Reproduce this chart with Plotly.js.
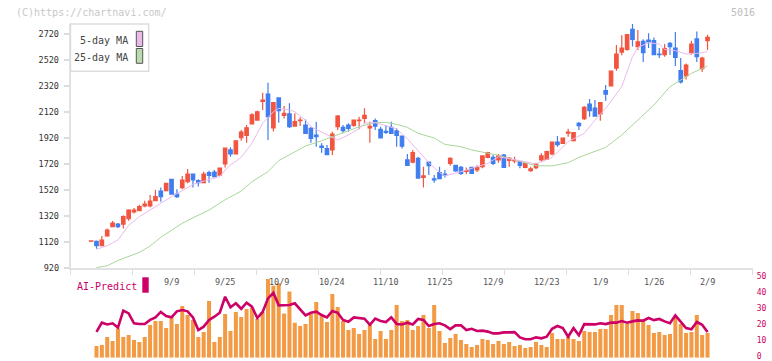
<!DOCTYPE html>
<html><head><meta charset="utf-8">
<script src="https://cdn.plot.ly/plotly-3.0.1.min.js"></script>
<style>html,body{margin:0;padding:0;background:#fff;}#chart{width:772px;height:361px;}</style>
</head><body><div id="chart"></div>
<script>
// Trading-day candles, first entry is day -1 (before the volume series starts)
const openP  = [1126,1125,1092,1166,1238,1258,1258,1299,1351,1361,1397,1397,1438,1512,1515,1602,1489,1538,1584,1643,1592,1576,1653,1658,1635,1720,1828,1797,1922,1940,2028,2058,2202,2258,1997,2228,2094,2105,2012,2053,2020,1994,1943,1858,1838,1828,2007,2002,2020,2017,2053,2071,1997,2053,1987,1971,2002,1976,1935,1751,1735,1764,1617,1735,1605,1653,1643,1725,1710,1694,1664,1694,1674,1699,1771,1771,1751,1789,1748,1743,1738,1694,1669,1692,1751,1756,1797,1889,1879,1958,1899,2033,2069,2181,2151,2105,2284,2320,2458,2581,2602,2756,2623,2664,2674,2669,2566,2561,2648,2612,2438,2397,2576,2682,2453,2669];
const highP  = [1128,1132,1166,1223,1282,1266,1325,1371,1382,1407,1438,1481,1520,1540,1571,1602,1525,1628,1682,1643,1602,1661,1669,1674,1694,1843,1848,1899,1982,2020,2110,2130,2269,2346,2197,2233,2166,2187,2110,2079,2063,2007,2046,1879,1866,1969,2097,2020,2033,2063,2084,2148,2046,2071,2007,2020,2046,1994,1935,1797,1828,1776,1699,1735,1635,1699,1674,1771,1710,1705,1694,1694,1710,1782,1815,1789,1797,1797,1771,1776,1738,1730,1699,1730,1802,1822,1889,1935,1920,1992,1966,2043,2166,2220,2212,2197,2328,2435,2635,2710,2720,2797,2751,2679,2725,2694,2612,2643,2658,2735,2535,2494,2669,2740,2546,2715];
const lowP   = [1124,1069,1092,1161,1238,1228,1223,1284,1340,1356,1387,1387,1438,1430,1515,1489,1458,1525,1571,1540,1546,1571,1576,1617,1630,1694,1776,1797,1899,1884,2028,2058,2135,1905,1971,2038,2071,1997,2007,2012,1956,1884,1853,1807,1787,1789,1981,1956,1969,2007,1987,2033,1884,1981,1920,1951,1951,1853,1840,1705,1725,1607,1540,1635,1576,1607,1617,1707,1661,1635,1643,1648,1658,1687,1764,1712,1730,1694,1699,1725,1687,1687,1661,1679,1740,1751,1787,1853,1874,1930,1894,1981,2058,2084,2084,2053,2207,2320,2438,2556,2592,2623,2597,2504,2612,2561,2535,2546,2561,2474,2340,2371,2561,2504,2428,2597];
const closeP = [1128,1092,1135,1212,1266,1238,1315,1366,1366,1392,1412,1435,1469,1469,1571,1489,1469,1597,1643,1597,1576,1643,1633,1623,1689,1843,1797,1899,1966,1999,2099,2122,2212,2084,2192,2130,2110,2007,2046,2058,1956,1917,1930,1848,1792,1951,2089,1976,1994,2058,2058,2094,2010,2012,1920,1963,1956,1940,1858,1710,1807,1612,1628,1707,1597,1607,1635,1764,1666,1648,1669,1648,1694,1782,1807,1725,1782,1694,1766,1748,1710,1725,1682,1720,1782,1815,1889,1869,1920,1966,1961,2015,2156,2130,2089,2192,2258,2435,2566,2612,2715,2679,2659,2576,2659,2561,2561,2607,2623,2540,2351,2481,2643,2546,2535,2694];

// Volume-style bars and AI-Predict line (right axis 0-50), days 0..114
const volume = [7.3,7.9,12.9,10.4,18.3,12.9,14.2,11.1,9.8,12.9,20.4,22.9,22.9,18.5,26.0,21.0,32.3,26.7,23.5,12.9,16.0,35.4,9.8,12.9,27.3,16.7,28.5,25.4,30.4,31.0,24.2,28.5,49.2,45.0,46.5,27.7,41.3,21.9,19.8,21.0,27.3,34.8,26.7,22.3,39.8,31.7,22.9,17.3,18.5,14.8,17.3,20.4,11.7,16.7,11.7,17.3,32.9,22.9,23.5,17.3,19.8,26.7,18.5,32.9,16.7,9.2,12.3,14.8,11.0,8.6,6.7,7.9,11.7,11.0,8.6,10.4,8.6,9.8,7.3,7.9,6.0,6.7,9.8,7.9,6.7,15.4,11.7,11.7,12.9,11.7,10.4,16.7,16.0,16.0,17.9,17.9,26.7,32.9,32.9,21.0,29.2,27.9,24.2,20.4,15.4,16.0,14.2,14.8,24.8,21.0,15.4,16.0,26.7,14.2,15.4];
const aiPredict = [16.1,21.9,20.8,21.5,18.8,29.4,27.7,21.5,21.1,21.1,23.6,25.2,28.6,26.1,25.2,29.0,29.8,29.0,25.2,17.3,19.4,23.6,25.6,28.1,38.1,31.5,34.0,30.6,34.4,31.9,24.8,28.6,37.1,40.6,32.7,32.9,32.9,34.0,30.2,26.5,28.1,28.8,26.7,25.2,29.2,28.1,23.6,22.5,25.2,24.6,24.4,20.6,24.4,22.9,22.3,25.2,21.1,20.8,21.9,20.8,24.2,23.6,19.8,21.1,21.5,20.2,17.9,20.2,20.2,17.3,18.1,16.7,16.9,16.3,15.2,15.2,15.8,15.8,16.0,12.7,11.5,11.5,12.7,12.1,13.1,18.1,19.8,18.5,13.1,18.5,14.0,21.0,20.8,20.8,21.5,21.0,21.9,21.9,22.9,21.9,22.7,23.3,23.1,24.8,23.5,24.2,22.7,21.5,26.5,22.3,18.5,17.7,22.3,20.6,16.0];

// Moving averages, read at these day positions
const ma5Day = [0,2,4,5,6,8,10,12,14,16,18,19,21,23,24,25,27,29,31,33,34,36,37,39,40,42,44,45,47,49,50,52,54,56,58,60,62,64,65,68,70,73,75,78,80,82,85,88,91,93,95,98,100,101,103,105,106,108,110,112,114];
const ma5    = [1064,1092,1135,1187,1248,1315,1366,1422,1469,1515,1563,1576,1597,1623,1674,1712,1771,1879,2033,2122,2148,2135,2122,2058,2007,1966,1925,1905,1943,1994,2033,2038,2015,1990,1915,1820,1730,1655,1628,1661,1687,1725,1776,1756,1738,1720,1771,1892,1956,2058,2148,2315,2546,2617,2653,2643,2602,2592,2566,2571,2584];
const ma25Day = [0,2,4,6,8,10,12,14,16,18,21,24,27,29,32,34,37,39,42,44,47,49,52,54,56,58,60,63,65,68,70,73,75,78,80,82,85,88,90,91,95,98,101,104,107,109,111,114];
const ma25    = [923,938,978,1010,1040,1089,1156,1210,1264,1306,1366,1445,1512,1584,1661,1746,1815,1858,1899,1930,1974,2007,2038,2040,2025,2002,1956,1920,1871,1853,1828,1802,1787,1751,1728,1707,1705,1730,1771,1787,1848,1943,2058,2174,2315,2365,2417,2474];

// Date labels (trading-day position)
const dateDay    = [14,24,34,44,54,64,74,84,94,104,114];
const dateLabels = ['9/9','9/25','10/9','10/24','11/10','11/25','12/9','12/23','1/9','1/26','2/9'];
const priceTicks = [920,1120,1320,1520,1720,1920,2120,2320,2520,2720];
const aiTicks    = [0,10,20,30,40,50];

const candleDay = closeP.map((_, k) => k - 1);
const dayIdx = volume.map((_, k) => k);

const W = 772, H = 361;
const px = v => v / W, py = v => 1 - v / H;
const MONO = 'DejaVu Sans Mono, monospace';
const CRIMSON = '#cc0066';
const xRange = [-4.813, 122.43];
const xDomain = [px(70.7), px(752.7)];

const traces = [
  {type:'scatter', mode:'lines', x:ma25Day, y:ma25, xaxis:'x', yaxis:'y',
   line:{color:'#a9d69a', width:1}, hoverinfo:'skip'},
  {type:'scatter', mode:'lines', x:ma5Day, y:ma5, xaxis:'x', yaxis:'y',
   line:{color:'#ebb9ed', width:1}, hoverinfo:'skip'},
  {type:'candlestick', x:candleDay, open:openP, high:highP, low:lowP, close:closeP,
   xaxis:'x', yaxis:'y', whiskerwidth:0,
   increasing:{line:{color:'#f2543f', width:1.2}, fillcolor:'#f2543f'},
   decreasing:{line:{color:'#3f7df0', width:1.2}, fillcolor:'#3f7df0'},
   hoverinfo:'skip'},
  {type:'bar', x:dayIdx, y:volume, xaxis:'x2', yaxis:'y2',
   marker:{color:'#f39a45', line:{width:0}}, hoverinfo:'skip'},
  {type:'scatter', mode:'lines', x:dayIdx, y:aiPredict, xaxis:'x2', yaxis:'y2',
   line:{color:CRIMSON, width:2.6}, hoverinfo:'skip'}
];

const annotations = [
  {xref:'paper', yref:'paper', x:px(14), y:py(12.5), xanchor:'left', yanchor:'middle',
   text:'(C)https://chartnavi.com/', showarrow:false, font:{family:MONO, size:10, color:'#c8c8c8'}},
  {xref:'paper', yref:'paper', x:px(757), y:py(12.5), xanchor:'right', yanchor:'middle',
   text:'5016', showarrow:false, font:{family:MONO, size:10, color:'#bdbdbd'}},
  {xref:'paper', yref:'paper', x:px(130), y:py(40), xanchor:'right', yanchor:'middle',
   text:'5-day MA', showarrow:false, font:{family:MONO, size:10, color:'#444'}},
  {xref:'paper', yref:'paper', x:px(130), y:py(57.3), xanchor:'right', yanchor:'middle',
   text:'25-day MA', showarrow:false, font:{family:MONO, size:10, color:'#444'}},
  {xref:'paper', yref:'paper', x:px(75), y:py(286), xanchor:'left', yanchor:'middle',
   text:'AI-Predict', showarrow:false, font:{family:MONO, size:10, color:CRIMSON}}
];
dateDay.forEach((d, k) => annotations.push({
  xref:'x2', yref:'paper', x:d, y:py(282), xanchor:'center', yanchor:'middle',
  text:dateLabels[k], showarrow:false, font:{family:MONO, size:8.5, color:'#555'}
}));

const shapes = [
  {type:'rect', xref:'paper', yref:'paper', x0:px(70.5), x1:px(148.7), y0:py(24), y1:py(71.3),
   line:{color:'#dddddd', width:1.5}, fillcolor:'rgba(255,255,255,0.9)'},
  {type:'rect', xref:'paper', yref:'paper', x0:px(136.3), x1:px(142.7), y0:py(31.3), y1:py(46.5),
   line:{color:'#555', width:1}, fillcolor:'#eab8ea'},
  {type:'rect', xref:'paper', yref:'paper', x0:px(136.3), x1:px(142.7), y0:py(48.5), y1:py(63.3),
   line:{color:'#555', width:1}, fillcolor:'#b9dcaa'},
  {type:'rect', xref:'paper', yref:'paper', x0:px(142.3), x1:px(148.7), y0:py(277.3), y1:py(292.7),
   line:{width:0}, fillcolor:CRIMSON}
];

const layout = {
  width:W, height:H, margin:{l:0, r:0, t:0, b:0},
  paper_bgcolor:'#fff', plot_bgcolor:'rgba(0,0,0,0)',
  showlegend:false, hovermode:false, boxgap:0.08, bargap:0.25,
  xaxis:{domain:xDomain, range:xRange, anchor:'y', rangeslider:{visible:false},
    tickmode:'linear', tick0:-4.813, dtick:62/5.36, showticklabels:false,
    ticks:'outside', ticklen:5, tickwidth:1.5, tickcolor:'#dcdcdc',
    showline:true, linecolor:'#e2e2e2', linewidth:2, showgrid:false, zeroline:false, fixedrange:true},
  yaxis:{domain:[py(268), py(24)], range:[920, 2797], anchor:'x',
    tickmode:'array', tickvals:priceTicks, ticktext:priceTicks.map(String),
    ticks:'outside', ticklen:5, tickwidth:1.5, tickcolor:'#dcdcdc', ticklabelstandoff:3,
    tickfont:{family:MONO, size:8.5, color:'#333'},
    showline:true, linecolor:'#e2e2e2', linewidth:2, showgrid:false, zeroline:false, fixedrange:true},
  xaxis2:{domain:xDomain, range:xRange, anchor:'y2', showticklabels:false, ticks:'',
    showline:false, showgrid:false, zeroline:false, fixedrange:true},
  yaxis2:{domain:[py(357.7), py(277.7)], range:[0, 50], anchor:'x2', side:'right',
    tickmode:'array', tickvals:aiTicks, ticktext:aiTicks.map(String), ticks:'',
    ticklabelstandoff:3, ticklabelshift:-2, ticklabeloverflow:'allow',
    tickfont:{family:MONO, size:8, color:CRIMSON},
    showline:false, showgrid:false, zeroline:false, fixedrange:true},
  annotations:annotations, shapes:shapes
};

Plotly.newPlot('chart', traces, layout, {displayModeBar:false, staticPlot:true});
</script></body></html>
